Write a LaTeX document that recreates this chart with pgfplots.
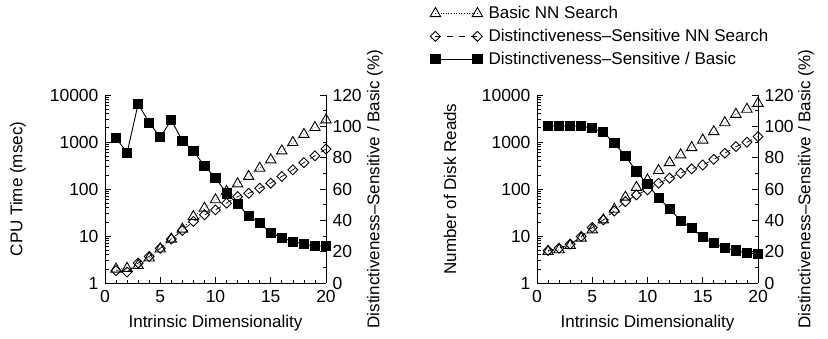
\documentclass[border=0pt]{standalone}
\usepackage{fontspec}
\setmainfont{Liberation Sans}
\usepackage{pgfplots}
\usepackage{pgfplotstable}
\pgfplotsset{compat=1.18}

\pgfplotstableread{
x basic dist ratio
1 1.98 1.83 92.4
2 2.05 1.71 83.2
3 2.37 2.66 114.3
4 3.4 3.68 102.3
5 5.3 5.5 93.0
6 8.6 8.6 104.0
7 14 13.1 90.8
8 26 20.4 84.3
9 39 28.3 74.7
10 59 36 67.2
11 89 50 57.2
12 129 69 50.4
13 185 81 42.8
14 277 104 38.1
15 417 133 32.1
16 647 185 28.9
17 975 256 26.4
18 1450 364 24.9
19 2030 508 23.6
20 2950 710 23.6
}\cpu

\pgfplotstableread{
x basic dist ratio
1 4.7 4.9 100.2
2 5.1 5.5 100.2
3 6.3 6.7 100.2
4 9.0 9.8 100.2
5 13.5 15.2 98.8
6 22 22 96.2
7 37 34 89.2
8 67 54 81.1
9 108 75 71.2
10 156 96 63.1
11 247 133 54.2
12 365 170 47.4
13 532 217 39.7
14 760 268 35.0
15 1100 325 29.3
16 1660 428 25.5
17 2570 576 22.3
18 3880 800 20.8
19 4980 990 19.1
20 6620 1300 18.7
}\disk

\newcommand{\fnt}{\fontsize{17}{20}\selectfont}
\newcommand{\tfnt}{\fontsize{17.5}{20}\selectfont}

\pgfplotsset{
  basicst/.style={black, line width=0.6pt, dotted, mark=triangle, mark size=6pt, mark options={solid, line width=0.9pt}},
  distst/.style={black, line width=0.7pt, dash pattern=on 6pt off 6pt, mark=square, mark size=3.5pt, mark options={solid, rotate=45, line width=0.9pt}},
  ratiost/.style={black, line width=0.9pt, solid, mark=square*, mark size=4.6pt, mark options={solid}},
}

\begin{document}
\begin{tikzpicture}
\useasboundingbox (0,0) rectangle (828pt,-339pt);

% Left chart
\begin{axis}[scale only axis, width=221pt, height=188pt,
  at={(105pt,-283pt)}, anchor=south west,
  xmin=0, xmax=20, font=\fnt, tick align=inside,
  ticklabel style={font=\tfnt},
  major tick length=6pt, minor tick length=3.5pt,
  every tick/.style={black, line width=0.7pt},
  axis line style={line width=0.8pt},
  ymode=log, ymin=1, ymax=10000,
  ytick={1,10,100,1000,10000}, yticklabels={1,10,100,1000,10000},
  yticklabel style={xshift=-3pt},
  xticklabel style={yshift=-4pt},
  axis x line*=bottom, axis y line*=left,
  xtick={0,5,10,15,20}, xticklabels={0,5,10,15,20}, minor x tick num=4,
  xlabel={Intrinsic Dimensionality},
  xlabel style={at={(axis description cs:0.5,-0.213)}, anchor=center},
  ylabel={CPU Time (msec)},
  ylabel style={at={(axis description cs:-0.394,0.5)}, anchor=center}]
\addplot[basicst] table[x=x, y=basic] {\cpu};
\addplot[distst] table[x=x, y=dist] {\cpu};
\end{axis}
\begin{axis}[scale only axis, width=221pt, height=188pt,
  at={(105pt,-283pt)}, anchor=south west,
  xmin=0, xmax=20, font=\fnt, tick align=inside,
  ticklabel style={font=\tfnt},
  major tick length=6pt, minor tick length=3.5pt,
  every tick/.style={black, line width=0.7pt},
  axis line style={line width=0.8pt},
  ymin=0, ymax=120, ytick={0,20,40,60,80,100,120},
  yticklabels={0,20,40,60,80,100,120}, minor y tick num=1,
  yticklabel style={xshift=3pt},
  axis y line*=right, axis x line=none,
  ylabel={Distinctiveness–Sensitive / Basic (\%)},
  ylabel style={at={(axis description cs:1.222,0.5)}, anchor=center}]
\addplot[ratiost] table[x=x, y=ratio] {\cpu};
\end{axis}

% Right chart
\begin{axis}[scale only axis, width=221pt, height=188pt,
  at={(537pt,-283pt)}, anchor=south west,
  xmin=0, xmax=20, font=\fnt, tick align=inside,
  ticklabel style={font=\tfnt},
  major tick length=6pt, minor tick length=3.5pt,
  every tick/.style={black, line width=0.7pt},
  axis line style={line width=0.8pt},
  ymode=log, ymin=1, ymax=10000,
  ytick={1,10,100,1000,10000}, yticklabels={1,10,100,1000,10000},
  yticklabel style={xshift=-3pt},
  xticklabel style={yshift=-4pt},
  axis x line*=bottom, axis y line*=left,
  xtick={0,5,10,15,20}, xticklabels={0,5,10,15,20}, minor x tick num=4,
  xlabel={Intrinsic Dimensionality},
  xlabel style={at={(axis description cs:0.5,-0.213)}, anchor=center},
  ylabel={Number of Disk Reads},
  ylabel style={at={(axis description cs:-0.394,0.5)}, anchor=center}]
\addplot[basicst] table[x=x, y=basic] {\disk};
\addplot[distst] table[x=x, y=dist] {\disk};
\end{axis}
\begin{axis}[scale only axis, width=221pt, height=188pt,
  at={(537pt,-283pt)}, anchor=south west,
  xmin=0, xmax=20, font=\fnt, tick align=inside,
  ticklabel style={font=\tfnt},
  major tick length=6pt, minor tick length=3.5pt,
  every tick/.style={black, line width=0.7pt},
  axis line style={line width=0.8pt},
  ymin=0, ymax=120, ytick={0,20,40,60,80,100,120},
  yticklabels={0,20,40,60,80,100,120}, minor y tick num=1,
  yticklabel style={xshift=3pt},
  axis y line*=right, axis x line=none,
  ylabel={Distinctiveness–Sensitive / Basic (\%)},
  ylabel style={at={(axis description cs:1.217,0.5)}, anchor=center},
  legend image code/.code={\draw[#1] plot coordinates {(0pt,0pt) (42pt,0pt)};},
  legend style={draw=none, fill=none, at={(axis description cs:-0.484,1.479)},
    anchor=north west, font=\fnt, row sep=6pt, column sep=4.5pt, inner sep=0pt,
    nodes={inner sep=1.5pt}},
  legend cell align=left]
\addlegendimage{basicst}
\addlegendentry{Basic NN Search}
\addlegendimage{distst}
\addlegendentry{Distinctiveness–Sensitive NN Search}
\addplot[ratiost] table[x=x, y=ratio] {\disk};
\addlegendentry{Distinctiveness–Sensitive / Basic}
\end{axis}
\end{tikzpicture}
\end{document}
